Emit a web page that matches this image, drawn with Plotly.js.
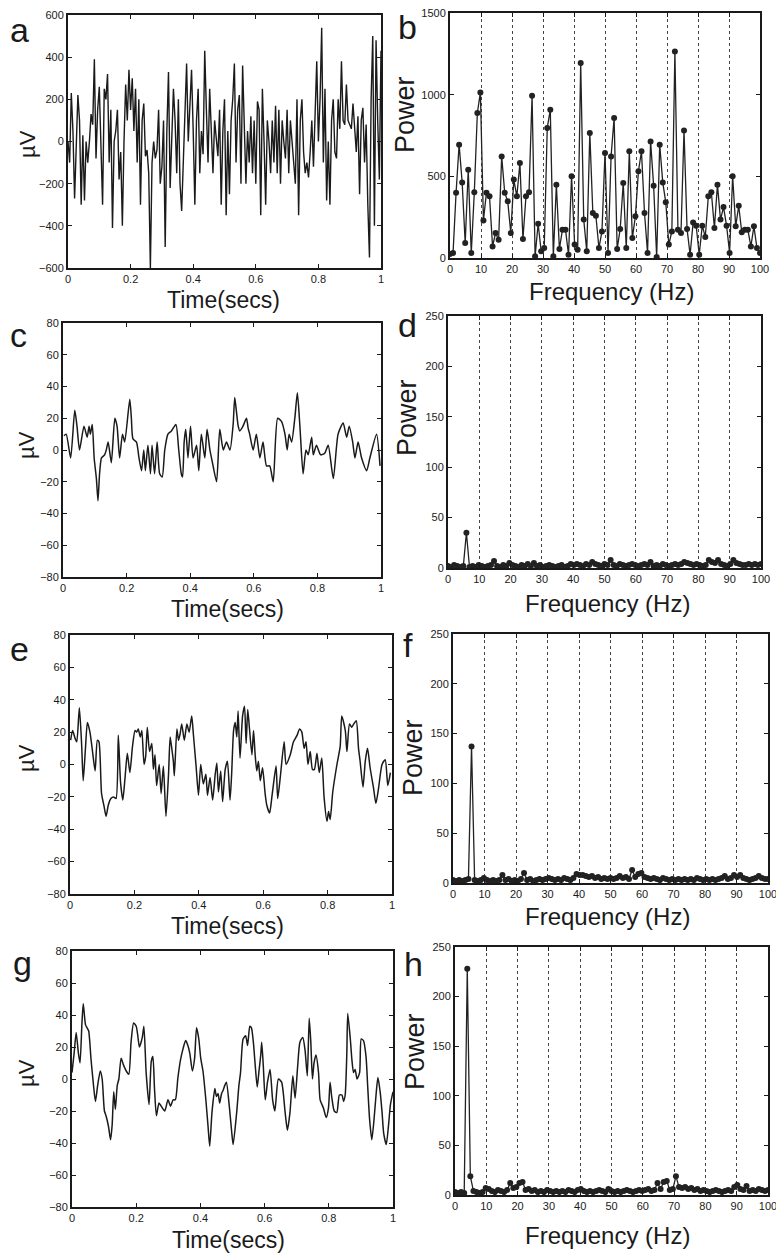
<!DOCTYPE html>
<html><head><meta charset="utf-8">
<script src="https://cdn.plot.ly/plotly-3.0.1.min.js"></script>
<style>html,body{margin:0;padding:0;background:#fff}#chart{width:776px;height:1254px}</style>
</head><body><div id="chart"></div>
<script>
// ---------- DATA ----------
// Panel a: raw EEG trace (µV), uniformly sampled over 0..1 s
const aMicroVolts = [0,-100,230,50,-270,-50,220,100,-300,30,-280,0,-100,0,130,80,390,-80,150,260,-50,-300,250,200,320,-100,150,-410,0,50,150,-180,-50,-400,0,270,100,340,150,300,50,250,-100,200,-300,100,180,-70,-40,-150,-600,-100,0,-80,-40,150,-200,-120,100,-500,50,330,-220,0,250,100,-150,200,-200,-330,-100,200,370,0,200,340,50,-300,100,250,-150,50,-60,430,150,-100,250,0,-150,100,0,-70,150,-300,50,200,-350,50,-250,100,200,370,-100,150,220,-200,360,0,-200,50,-100,120,-150,100,-200,190,150,-350,250,0,-300,100,0,-150,100,-100,170,-150,150,-200,100,0,-80,150,-150,100,0,-100,-200,200,-350,100,200,-50,-150,-100,-170,-50,100,-120,150,380,0,200,540,-100,250,-280,0,-300,100,200,-50,-80,200,60,380,100,80,270,100,80,60,180,80,-50,120,-250,100,160,-100,80,-300,-550,200,500,-400,480,100,-180,430];

// Panel c: filtered trace (time in ms, µV)
const cTimeMs = [3,10,24,37,44,52,66,76,82,86,92,98,105,110,115,121,131,136,142,152,163,170,178,187,194,210,215,220,231,239,247,254,259,267,275,280,288,296,304,312,320,330,341,355,364,372,376,381,386,393,401,409,420,427,435,446,453,462,470,483,493,504,514,525,535,540,545,551,556,566,577,582,587,598,608,619,629,640,650,661,675,687,698,705,711,719,729,737,745,755,764,771,782,787,797,810,823,834,850,865,881,892,900,911,918,928,939,955,965,986,997];
const cMicroVolts = [9,10,-5,25,15,0,15,8,15,10,16,-5,-18,-32,-15,-5,-3,0,5,-8,20,15,-5,10,5,32,20,7,5,-5,-13,0,-13,3,-15,3,-15,5,-15,-17,0,10,12,16,0,-15,-17,5,13,-5,15,-5,3,-13,10,-5,13,0,-8,-20,13,0,5,0,16,33,25,15,12,15,20,14,10,0,10,-5,5,-10,-10,-20,20,18,10,0,10,5,20,36,15,-15,0,-3,8,-3,3,-3,-2,3,-18,10,17,8,15,5,-5,5,-5,-13,-5,10,-10];

// Panel e
const eTimeMs = [2,8,16,21,29,36,41,48,54,62,70,78,85,90,98,106,112,119,127,135,143,150,157,164,171,178,186,194,202,207,212,218,223,230,235,240,247,254,259,264,269,277,283,290,298,306,311,316,321,324,332,337,342,347,355,363,370,378,383,392,399,406,414,422,427,435,443,451,456,461,468,474,482,489,497,502,508,513,518,522,528,536,542,547,552,557,565,570,575,580,585,591,598,606,611,620,627,632,640,645,653,665,671,684,694,705,713,720,727,733,739,746,753,759,767,774,782,789,798,803,808,816,829,839,844,855,860,868,875,881,889,896,901,910,917,924,932,943,950,958,969,979,987,995];
const eMicroVolts = [15,21,16,14,35,13,-10,10,26,20,8,-4,15,14,-18,-26,-32,-25,-21,-20,-21,18,-11,-22,-8,7,-5,11,21,20,22,17,21,0,5,23,8,13,-3,6,-13,0,-18,-1,-32,-6,17,10,2,-7,22,15,19,25,15,25,20,30,19,-2,-19,0,-12,-6,-19,-8,-22,-6,1,-17,-4,-23,-3,2,-22,-6,21,26,17,33,4,30,36,13,34,23,6,21,6,-4,2,-10,-2,-18,-25,-30,-20,-12,-1,-21,-8,14,0,6,14,18,22,20,10,14,0,8,-3,-3,7,-5,4,-20,-35,-29,-34,-17,0,11,30,21,8,25,23,25,27,10,2,-14,2,10,-2,-15,-24,-15,0,3,-13,-5];

// Panel g
const gTimeMs = [0,7,13,20,25,31,35,42,47,52,59,67,73,80,88,94,101,106,114,120,125,130,135,141,146,153,160,169,177,184,192,200,205,210,219,224,231,240,247,252,257,263,271,278,289,299,307,315,322,330,338,346,354,361,367,375,382,388,395,401,408,417,424,429,436,445,450,455,460,466,471,476,481,490,497,502,513,520,525,533,541,547,554,559,565,571,577,582,588,591,596,602,609,617,625,632,643,653,664,671,679,688,695,703,710,719,726,733,739,744,749,754,760,768,773,783,792,799,804,809,817,825,833,841,846,851,856,859,867,872,877,882,888,896,901,908,916,921,927,934,941,948,953,960,966,971,979,986,992,1000];
const gMicroVolts = [4,17,29,16,10,35,47,34,32,30,13,-4,-14,-4,5,0,-20,-23,-30,-38,-29,-8,-19,-4,0,13,9,5,3,23,35,33,27,20,26,33,4,-16,11,14,-6,-23,-15,-17,-20,-13,-17,-13,-13,1,12,19,24,21,16,5,13,32,25,13,5,-13,-30,-42,-21,-6,-11,-9,-15,-9,-7,-4,-2,-17,-32,-41,-21,-4,4,25,27,21,33,32,23,8,-5,4,15,23,8,-13,-2,6,-13,-20,0,-2,-21,-32,-21,2,-12,8,23,26,18,2,38,23,0,10,15,4,-13,-18,-24,-18,-2,-11,-20,-21,-10,-10,-14,-10,15,41,25,12,4,6,0,4,25,24,14,-4,-25,-38,-25,-8,1,-8,-21,-34,-41,-29,-16,-8];

// Power spectra, uniform frequency bins over 0..100 Hz
const bPower = [25,30,400,694,463,92,540,30,402,888,1014,230,400,378,71,153,112,622,400,347,153,480,378,582,116,378,402,994,10,210,41,61,796,908,10,449,55,173,173,20,500,82,51,1194,235,41,765,275,259,61,163,643,31,622,857,55,178,459,61,653,122,255,531,653,275,31,714,443,6,694,463,341,82,163,1265,173,153,780,178,20,218,198,20,198,129,378,402,184,449,235,312,198,31,500,194,320,157,173,173,71,194,61,31];
const dPower = [2,1,3,2,1,2,35,1,2,1,3,2,1,2,3,7,2,1,3,2,5,3,2,1,3,2,4,2,5,2,3,1,2,3,2,1,2,3,1,2,4,3,4,3,2,4,3,6,4,3,2,4,3,8,3,2,4,3,2,3,4,3,2,3,4,3,6,2,3,2,4,3,2,3,4,3,4,6,5,4,3,4,3,2,3,8,6,5,8,4,3,2,4,8,5,4,3,3,4,3,4,3,4];
const fPower = [3,2,3,2,3,4,137,3,2,3,5,3,2,3,2,3,8,3,4,2,3,2,4,10,3,4,2,3,4,3,4,5,4,3,4,3,5,4,3,5,9,8,8,7,6,7,5,6,4,5,4,5,4,5,7,5,6,4,13,6,9,10,6,5,4,5,4,3,5,4,3,4,3,4,3,4,3,4,3,5,4,3,4,3,4,3,4,5,7,4,5,8,6,8,5,4,3,4,5,7,5,4,4];
const hPower = [3,2,3,2,228,19,4,3,2,3,7,6,4,3,5,4,3,5,12,7,8,12,13,5,6,4,5,3,4,3,5,4,3,4,3,4,3,5,4,3,5,6,4,3,4,3,4,5,4,3,6,4,3,4,3,4,5,4,3,4,5,4,5,6,4,5,12,6,13,14,5,6,19,8,7,8,6,7,5,6,4,5,4,3,4,5,4,3,4,5,4,8,10,6,5,9,4,5,4,6,5,4,5];
const maxFreqHz = 100;

// Tick values / labels
const timeTicks = [0, 0.2, 0.4, 0.6, 0.8, 1];
const timeTickLabels = ['0', '0.2', '0.4', '0.6', '0.8', '1'];
const freqTicks = [0,10,20,30,40,50,60,70,80,90,100];
const freqTickLabels = ['0','10','20','30','40','50','60','70','80','90','100'];
const rawTicks = [-600,-400,-200,0,200,400,600];
const smallTicks = [-80,-60,-40,-20,0,20,40,60,80];
const bPowerTicks = [0,500,1000,1500];
const powerTicks = [0,50,100,150,200,250];

// ---------- LAYOUT ----------
const W = 776, H = 1254;
const INK = '#1a1a1a';
const FONT = 'Liberation Sans, Arial, Helvetica, sans-serif';
// plot boxes in px: [left, top, right, bottom]
const boxes = {
  a:[68,15,381,268], b:[450,13,760,258],
  c:[63,323,381,577], d:[448,316,761,568],
  e:[70,635,392,894], f:[453,634,768,883],
  g:[72,951,393,1207], h:[455,947,768,1195]
};
function dx(b){ return [b[0]/W, b[2]/W]; }
function dy(b){ return [1-b[3]/H, 1-b[1]/H]; }

function baseAxis(){
  return {showline:true, linecolor:INK, linewidth:2, mirror:'ticks', ticks:'inside',
          ticklen:4, tickwidth:1, tickcolor:INK, zeroline:false, showgrid:false,
          ticklabeloverflow:'allow',
          tickfont:{family:FONT, size:11, color:INK}, fixedrange:true};
}
function timeAxis(b, anchor){
  return Object.assign(baseAxis(), {domain:dx(b), anchor:anchor, range:[0,1],
    tickmode:'array', tickvals:timeTicks, ticktext:timeTickLabels});
}
function freqAxis(b, anchor){
  return Object.assign(baseAxis(), {domain:dx(b), anchor:anchor, range:[0,100],
    tickmode:'array', tickvals:freqTicks, ticktext:freqTickLabels,
    showgrid:true, gridcolor:'#444', gridwidth:1, griddash:'dot'});
}
function valAxis(b, anchor, range, ticks){
  return Object.assign(baseAxis(), {domain:dy(b), anchor:anchor, range:range,
    tickmode:'array', tickvals:ticks});
}

function uniformX(vals, span){ const n = vals.length; return vals.map((v,i)=> i*span/(n-1)); }
function toSec(ms){ return ms.map(t=>t/1000); }

function ts(x, y, xa, ya, smooth){
  const ln = {color:INK, width:smooth ? 1.5 : 1.4};
  if (smooth) { ln.shape = 'spline'; ln.smoothing = 0.6; }
  return {type:'scatter', mode:'lines', x:x, y:y, xaxis:xa, yaxis:ya, line:ln, hoverinfo:'skip'};
}
function spec(y, xa, ya){ return {type:'scatter', mode:'lines+markers', x:uniformX(y, maxFreqHz), y:y, xaxis:xa, yaxis:ya,
   line:{color:'#222', width:1.3}, marker:{size:6, color:'#222'}, hoverinfo:'skip'}; }

const data = [
  ts(uniformX(aMicroVolts,1), aMicroVolts, 'x', 'y', false),
  spec(bPower, 'x2', 'y2'),
  ts(toSec(cTimeMs), cMicroVolts, 'x3', 'y3', true),
  spec(dPower, 'x4', 'y4'),
  ts(toSec(eTimeMs), eMicroVolts, 'x5', 'y5', true),
  spec(fPower, 'x6', 'y6'),
  ts(toSec(gTimeMs), gMicroVolts, 'x7', 'y7', true),
  spec(hPower, 'x8', 'y8')
];

function ann(text, px, py, size, angle){
  return {text:text, x:px/W, y:1-py/H, xref:'paper', yref:'paper', showarrow:false,
          xanchor:'center', yanchor:'middle', textangle:angle||0, borderpad:0,
          font:{family:FONT, size:size, color:INK}};
}
const annotations = [
  ann('a',19,30,34), ann('b',407,27,34), ann('c',18,335,34), ann('d',407,325,34),
  ann('e',19,649,34), ann('f',408,645,34), ann('g',22,963,34), ann('h',413,964,34),
  ann('µV',27,144,22,-90), ann('µV',26,445,22,-90), ann('µV',26,758,22,-90), ann('µV',26,1073,22,-90),
  ann('Power',405,115,27,-90), ann('Power',407,418,27,-90), ann('Power',413,758,27,-90), ann('Power',415,1052,27,-90),
  ann('Time(secs)',224,300,23), ann('Time(secs)',227,609,23), ann('Time(secs)',227,926,23), ann('Time(secs)',228,1240,23),
  ann('Frequency (Hz)',611,292,24), ann('Frequency (Hz)',607,603,24), ann('Frequency (Hz)',607,916,24), ann('Frequency (Hz)',607,1235,24)
];

const layout = {
  width:W, height:H, margin:{l:0,r:0,t:0,b:0}, showlegend:false,
  paper_bgcolor:'#fff', plot_bgcolor:'#fff', font:{family:FONT, size:12, color:INK},
  xaxis:timeAxis(boxes.a,'y'),  yaxis:valAxis(boxes.a,'x',[-600,600],rawTicks),
  xaxis2:freqAxis(boxes.b,'y2'), yaxis2:valAxis(boxes.b,'x2',[0,1500],bPowerTicks),
  xaxis3:timeAxis(boxes.c,'y3'), yaxis3:valAxis(boxes.c,'x3',[-80,80],smallTicks),
  xaxis4:freqAxis(boxes.d,'y4'), yaxis4:valAxis(boxes.d,'x4',[0,250],powerTicks),
  xaxis5:timeAxis(boxes.e,'y5'), yaxis5:valAxis(boxes.e,'x5',[-80,80],smallTicks),
  xaxis6:freqAxis(boxes.f,'y6'), yaxis6:valAxis(boxes.f,'x6',[0,250],powerTicks),
  xaxis7:timeAxis(boxes.g,'y7'), yaxis7:valAxis(boxes.g,'x7',[-80,80],smallTicks),
  xaxis8:freqAxis(boxes.h,'y8'), yaxis8:valAxis(boxes.h,'x8',[0,250],powerTicks),
  annotations:annotations
};

Plotly.newPlot('chart', data, layout, {staticPlot:true, displayModeBar:false});
</script></body></html>
